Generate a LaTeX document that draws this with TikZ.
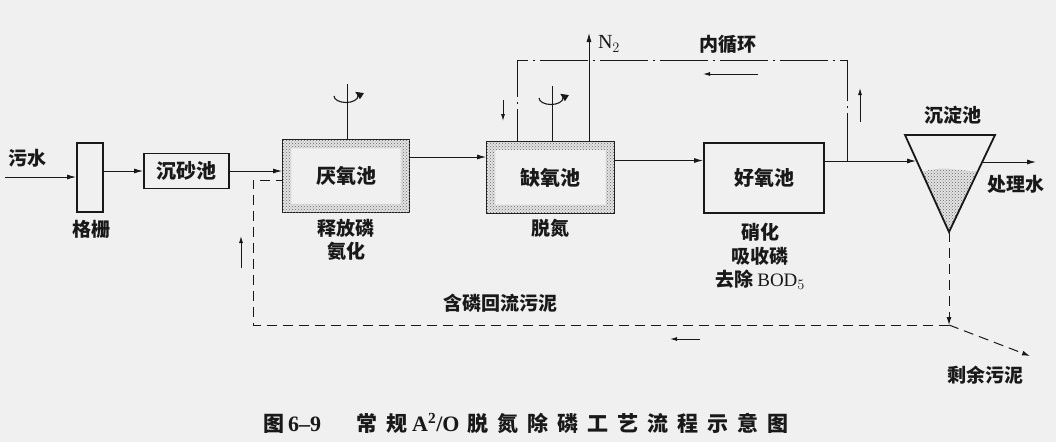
\documentclass[tikz,border=0pt]{standalone}
\usepackage{fontspec}
\setmainfont{Liberation Serif}
\newfontfamily\cjk{Noto Sans CJK SC}
\usetikzlibrary{arrows.meta,patterns,calc}
\definecolor{bgc}{RGB}{240,240,240}
\definecolor{ink}{RGB}{25,25,25}
\newcommand\capsp{\hspace{9pt}}
\begin{document}
\begin{tikzpicture}[x=1pt,y=-1pt,
  box/.style={draw=ink, line width=1.8pt, inner sep=0pt, font=\cjk\bfseries\fontsize{20}{22}\selectfont, text=ink},
  lbl/.style={inner sep=0pt, font=\cjk\bfseries\fontsize{19}{21}\selectfont, text=ink},
  arr/.style={draw=ink, -{Latex[length=9pt,width=5pt]}, line width=0.9pt},
  smallarr/.style={draw=ink, -{Latex[length=7pt,width=4pt]}, line width=0.9pt},
  dsh/.style={draw=ink, dash pattern=on 10pt off 6pt, line width=1pt},
  dd/.style={draw=ink, dash pattern=on 48pt off 5pt on 2pt off 5pt, line width=1pt},
  stir/.style={draw=ink, line width=1.1pt, -{Triangle[length=8pt,width=7pt]}},
  stip/.style={pattern=crosshatch dots, pattern color=black!60, even odd rule, draw=none},
  stipbg/.style={fill=gray!22, even odd rule, draw=none}
]
\fill[bgc] (0,0) rectangle (1056,442);
\useasboundingbox (0,0) rectangle (1056,442);

% boxes
\node[box, minimum width=26pt, minimum height=69pt] (grid) at (90,177.5) {};
\node[box, minimum width=85pt, minimum height=35pt] (grit) at (186.5,171) {沉砂池};
\node[box, minimum width=126pt, minimum height=72pt] (ana) at (346,176) {};
\node[box, minimum width=127pt, minimum height=71pt] (anx) at (550.5,177.5) {};
\node[box, minimum width=120pt, minimum height=70pt] (aer) at (764,178) {好氧池};

\foreach \b in {ana,anx}{
  \fill[stipbg] ([shift={(1pt,-1pt)}]\b.north west) rectangle ([shift={(-1pt,1pt)}]\b.south east)
    ([shift={(9pt,-9pt)}]\b.north west) rectangle ([shift={(-9pt,9pt)}]\b.south east);
  \fill[stip] (\b.north west) rectangle (\b.south east)
    ([shift={(9pt,-9pt)}]\b.north west) rectangle ([shift={(-9pt,9pt)}]\b.south east);
}
\node[lbl, font=\cjk\bfseries\fontsize{20}{22}\selectfont] (anat) at (ana.center) {厌氧池};
\node[lbl, font=\cjk\bfseries\fontsize{20}{22}\selectfont] (anxt) at (anx.center) {缺氧池};

% settling tank
\coordinate (t1) at (905,135);
\coordinate (t2) at (995,135);
\coordinate (t3) at (949,232);
\fill[gray!22] (922,172) .. controls (940,166) and (960,170) .. (977.5,172) -- (t3) -- cycle;
\fill[pattern=crosshatch dots, pattern color=black!60] (922,172) .. controls (940,166) and (960,170) .. (977.5,172) -- (t3) -- cycle;
\draw[draw=ink, line width=1.8pt, line join=miter] (t1) -- (t2) -- (t3) -- cycle;

% labels
\node[lbl] (lwater) at (28,158) {污水};
\node[lbl] (lgrid) at (91,229) {格栅};
\node[lbl] (lana1) at (346,228) {释放磷};
\node[lbl] (lana2) at (346,251) {氨化};
\node[lbl] (lanx) at (550,228) {脱氮};
\node[lbl] (laer1) at (760,232) {硝化};
\node[lbl] (laer2) at (760,256) {吸收磷};
\node[lbl] (laer3) at (760,280) {去除 {\rmfamily\mdseries BOD$_5$}};
\node[lbl] (lrec) at (728,44) {内循环};
\node[lbl] (lsed) at (953,115) {沉淀池};
\node[lbl] (lout) at (1016,184) {处理水};
\node[lbl] (lex) at (985,375) {剩余污泥};
\node[lbl] (lret) at (500,303) {含磷回流污泥};
\node[inner sep=0pt, text=ink, font=\rmfamily\fontsize{20}{22}\selectfont] (ln2) at (609,44) {N$_2$};
\node[inner sep=0pt, anchor=west, text=ink, font=\cjk\bfseries\fontsize{21}{23}\selectfont] (cap) at (263,423)
  {图\hspace{4pt}{\rmfamily\bfseries\fontsize{22}{24}\selectfont 6--9}\hspace{35pt}常\capsp 规\hspace{5pt}{\rmfamily\bfseries\fontsize{22}{24}\selectfont A$^{\mathbf 2}$/O}\hspace{8pt}脱\capsp 氮\capsp 除\capsp 磷\capsp 工\capsp 艺\capsp 流\capsp 程\capsp 示\capsp 意\capsp 图};

% main flow
\coordinate (in) at (5,177);
\draw[arr] (in) -- (in -| grid.west);
\draw[arr] (grid.east |- grit.west) -- (grit.west);
\draw[arr] (grit.east) -- (grit.east -| ana.west);
\draw[arr] ([yshift=19pt]ana.east) -- ([yshift=19pt]ana.east -| anx.west);
\draw[arr] ([yshift=17pt]anx.east) -- ([yshift=17pt]anx.east -| aer.west);
\coordinate (sin) at (916,161);
\coordinate (r1) at (847,161);
\draw[arr] ([yshift=17pt]aer.east) -- (sin);
\coordinate (so1) at (982,162);
\coordinate (so2) at (1036,162);
\draw[arr] (so1) -- (so2);

% N2
\coordinate (n2top) at (589,33);
\draw[arr] (n2top |- anx.north) -- (n2top);

% stirrers
\coordinate (s1) at (347,84);
\coordinate (s1c) at (346,96);
\draw[draw=ink, line width=1pt] (s1 |- ana.north) -- (s1);
\draw[stir] ([shift={(-12pt,0pt)}]s1c) arc[start angle=180, end angle=400, x radius=12pt, y radius=6.5pt];
\coordinate (s2) at (552,86);
\coordinate (s2c) at (551,98);
\draw[draw=ink, line width=1pt] (s2 |- anx.north) -- (s2);
\draw[stir] ([shift={(-12pt,0pt)}]s2c) arc[start angle=180, end angle=400, x radius=12pt, y radius=6.5pt];

% internal recycle
\coordinate (r2) at (517,60);
\draw[dd] (r1) |- (r2) -- (r2 |- anx.north);
\coordinate (a1s) at (503,100); \coordinate (a1e) at (503,121);
\draw[smallarr] (a1s) -- (a1e);
\coordinate (a2s) at (860,122); \coordinate (a2e) at (860,88);
\draw[smallarr] (a2s) -- (a2e);
\coordinate (a3s) at (758,74); \coordinate (a3e) at (703,74);
\draw[smallarr] (a3s) -- (a3e);

% return sludge
\coordinate (j) at (949,325);
\coordinate (c1) at (253,325);
\coordinate (c2) at (253,180);
\draw[dsh, -{Latex[length=8pt,width=5pt]}] (t3) -- (j);
\draw[dsh] (j) -- (c1) -- (c2) -- (c2 -| ana.west);
\coordinate (ex) at (1030,356);
\draw[dsh, -{Latex[length=8pt,width=5pt]}] (j) -- (ex);
\coordinate (a4s) at (241,268); \coordinate (a4e) at (241,236);
\draw[smallarr] (a4s) -- (a4e);
\coordinate (a5s) at (700,339); \coordinate (a5e) at (670,339);
\draw[smallarr] (a5s) -- (a5e);
\end{tikzpicture}
\end{document}
